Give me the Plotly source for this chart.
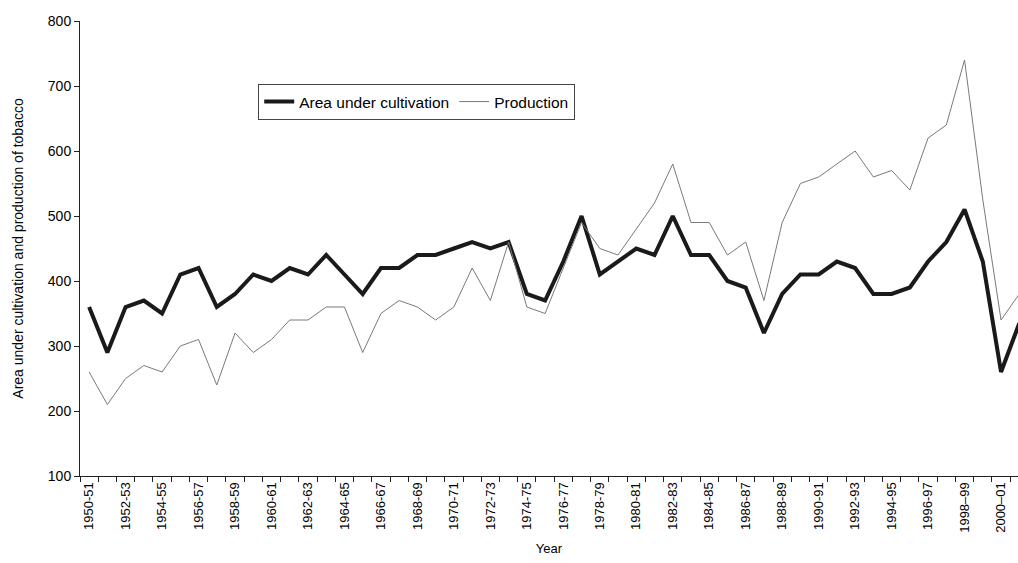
import plotly.graph_objects as go

years = ["1950-51", "1951-52", "1952-53", "1953-54", "1954-55", "1955-56", "1956-57", "1957-58",
         "1958-59", "1959-60", "1960-61", "1961-62", "1962-63", "1963-64", "1964-65", "1965-66",
         "1966-67", "1967-68", "1968-69", "1969-70", "1970-71", "1971-72", "1972-73", "1973-74",
         "1974-75", "1975-76", "1976-77", "1977-78", "1978-79", "1979-80", "1980-81", "1981-82",
         "1982-83", "1983-84", "1984-85", "1985-86", "1986-87", "1987-88", "1988-89", "1989-90",
         "1990-91", "1991-92", "1992-93", "1993-94", "1994-95", "1995-96", "1996-97", "1997-98",
         "1998\u201399", "1999\u20132000", "2000\u201301", "2001\u201302"]

area = [360, 290, 360, 370, 350, 410, 420, 360, 380, 410, 400, 420, 410, 440, 410, 380,
        420, 420, 440, 440, 450, 460, 450, 460, 380, 370, 430, 500, 410, 430, 450, 440,
        500, 440, 440, 400, 390, 320, 380, 410, 410, 430, 420, 380, 380, 390, 430, 460,
        510, 430, 260, 335]

production = [260, 210, 250, 270, 260, 300, 310, 240, 320, 290, 310, 340, 340, 360, 360, 290,
              350, 370, 360, 340, 360, 420, 370, 460, 360, 350, 420, 490, 450, 440, 480, 520,
              580, 490, 490, 440, 460, 370, 490, 550, 560, 580, 600, 560, 570, 540, 620, 640,
              740, 525, 340, 380]

idx = list(range(len(years)))
tick_idx = idx[::2]
tick_text = [years[i] for i in tick_idx]

font_family = "Arial, Liberation Sans, sans-serif"

fig = go.Figure()
fig.add_trace(go.Scatter(x=idx, y=area, mode="lines", name="Area under cultivation",
                         line=dict(color="#1a1a1a", width=4)))
fig.add_trace(go.Scatter(x=idx, y=production, mode="lines", name="Production",
                         line=dict(color="#7a7a7a", width=1)))

fig.update_layout(
    width=1018, height=563,
    margin=dict(l=80, r=0, t=21, b=87),
    plot_bgcolor="white", paper_bgcolor="white",
    font=dict(family=font_family, size=13, color="black"),
    showlegend=True,
    legend=dict(orientation="h", x=0.19, y=0.8615, xanchor="left", yanchor="top",
                bordercolor="#444", borderwidth=1, bgcolor="white",
                font=dict(size=15.5, color="black"), itemwidth=30),
    xaxis=dict(range=[-0.5, 50.93], tickmode="array", tickvals=tick_idx, ticktext=tick_text,
               tickangle=-90, ticks="", showgrid=False, zeroline=False, automargin=False,
               showline=True, linecolor="#222", linewidth=1,
               tickfont=dict(size=13),
               minor=dict(tickmode="linear", tick0=-0.5, dtick=1, ticks="outside",
                          ticklen=5, tickcolor="#222", showgrid=False),
               title=dict(text="Year", font=dict(size=13), standoff=12)),
    yaxis=dict(range=[100, 800], dtick=100, ticks="outside", ticklen=5, tickcolor="#222",
               showgrid=False, zeroline=False, showline=True, linecolor="#222", linewidth=1,
               automargin=False, tickfont=dict(size=14),
               title=dict(text="Area under cultivation and production of tobacco",
                          font=dict(size=14), standoff=20)),
)

fig.write_html("out.html", config={"displayModeBar": False},
               post_script="document.body.style.margin='0';document.body.style.overflow='hidden';")
